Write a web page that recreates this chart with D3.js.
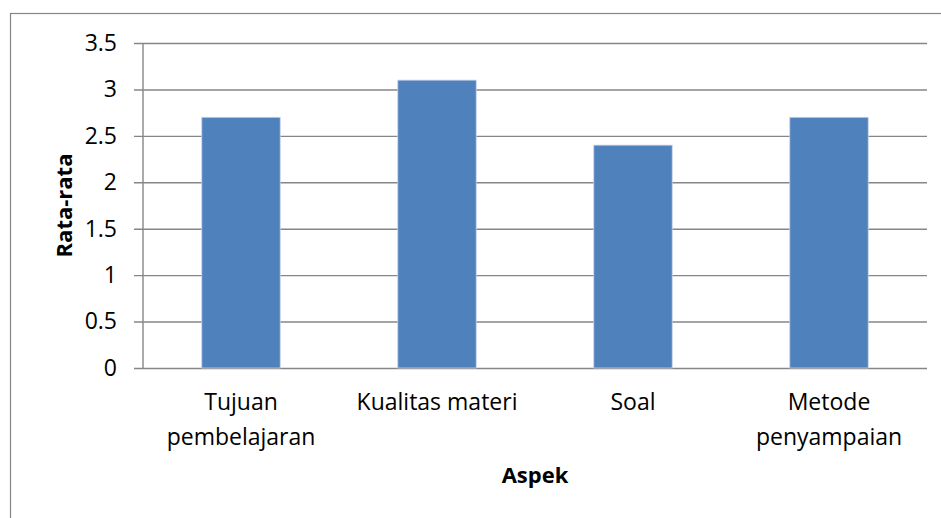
<!DOCTYPE html>
<html>
<head>
<meta charset="utf-8">
<script src="https://cdn.jsdelivr.net/npm/d3@7"></script>
<style>
  body { margin: 0; background: #fff; }
  svg { display: block; font-family: "Open Sans", sans-serif; }
</style>
</head>
<body>
<div id="chart"></div>
<script>
// data
const categories = ["Tujuan pembelajaran", "Kualitas materi", "Soal", "Metode penyampaian"];
const labelLines = [["Tujuan", "pembelajaran"], ["Kualitas materi"], ["Soal"], ["Metode", "penyampaian"]];
const values = [2.7, 3.1, 2.4, 2.7];
const yTicks = [0, 0.5, 1, 1.5, 2, 2.5, 3, 3.5];
const xTitle = "Aspek";
const yTitle = "Rata-rata";

// dimensions
const W = 941, H = 518;
const margin = {top: 43, right: 14, bottom: 150, left: 143},
width = W - margin.left - margin.right,
height = H - margin.top - margin.bottom;

const svg = d3.select("#chart")
.append("svg")
.attr("width", W)
.attr("height", H);

// outer chart border (right and bottom run off the picture)
svg.append("rect")
.attr("x", 10.5).attr("y", 13.5)
.attr("width", W + 20).attr("height", H + 20)
.attr("fill", "none")
.attr("stroke", "#868686")
.attr("stroke-width", 1.2);

const g = svg.append("g")
.attr("transform", `translate(${margin.left},${margin.top})`);

// scales
const x = d3.scaleBand()
.domain(categories)
.range([0, width])
.paddingInner(0.6)
.paddingOuter(0.3);

const y = d3.scaleLinear()
.domain([0, 3.5])
.range([height, 0]);

// gridlines + y axis
const yAxis = g.append("g")
.call(d3.axisLeft(y).tickValues(yTicks).tickSize(-width).tickPadding(26).tickFormat(d3.format("")));
yAxis.attr("font-size", null).attr("font-family", null);
yAxis.select(".domain").remove();
yAxis.selectAll(".tick line")
.attr("x1", -9)
.attr("stroke", "#868686")
.attr("stroke-width", 1.4);
yAxis.selectAll(".tick text")
.style("font-size", "23px")
.attr("fill", "#000");

// vertical axis line
g.append("line")
.attr("x1", 0).attr("x2", 0)
.attr("y1", 0).attr("y2", height)
.attr("stroke", "#868686")
.attr("stroke-width", 1.4);

// bars
g.append("g")
.selectAll("rect")
.data(values)
.join("rect")
.attr("x", (d, i) => x(categories[i]))
.attr("y", d => y(d))
.attr("width", x.bandwidth())
.attr("height", d => height - y(d))
.attr("fill", "#4f81bd")
.attr("stroke", "#c5d3e8")
.attr("stroke-width", 0.8);

// category labels (wrapped)
const xl = g.append("g")
.selectAll("text")
.data(categories)
.join("text")
.attr("text-anchor", "middle")
.style("font-size", "23px")
.attr("fill", "#000")
.attr("transform", d => `translate(${x(d) + x.bandwidth() / 2},${height + 42})`);
xl.selectAll("tspan")
.data((d, i) => labelLines[i])
.join("tspan")
.attr("x", 0)
.attr("y", (d, i) => i * 35)
.text(d => d);

// axis titles
svg.append("text")
.attr("x", margin.left + width / 2)
.attr("y", 483)
.attr("text-anchor", "middle")
.style("font-size", "22px")
.attr("font-weight", "bold")
.text(xTitle);

svg.append("text")
.attr("transform", `translate(72,${margin.top + height / 2}) rotate(-90)`)
.attr("text-anchor", "middle")
.style("font-size", "22px")
.attr("font-weight", "bold")
.text(yTitle);
</script>
</body>
</html>
